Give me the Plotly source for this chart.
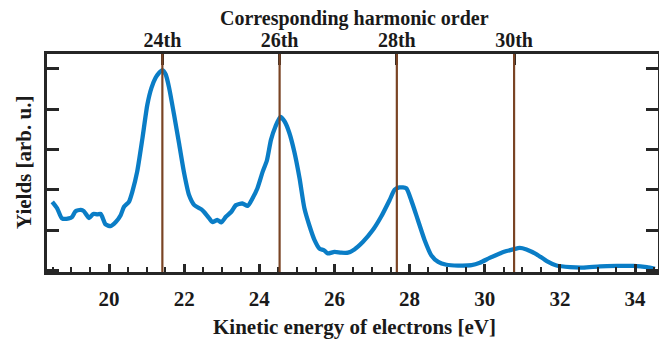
import plotly.graph_objects as go

energy = [18.49, 18.62, 18.75, 18.93, 19.02, 19.11, 19.25, 19.33, 19.47, 19.58, 19.69, 19.78,
          19.91, 20.04, 20.18, 20.31, 20.40, 20.53, 20.62, 20.75, 20.89, 21.02, 21.13, 21.24,
          21.33, 21.42, 21.51, 21.60, 21.73, 21.87, 22.00, 22.13, 22.27, 22.45, 22.53, 22.67,
          22.75, 22.89, 22.99, 23.11, 23.25, 23.38, 23.55, 23.69, 23.82, 23.95, 24.09, 24.20,
          24.31, 24.43, 24.56, 24.67, 24.80, 24.93, 25.07, 25.20, 25.33, 25.47, 25.60, 25.72,
          25.82, 26.00, 26.18, 26.36, 26.53, 26.76, 27.02, 27.24, 27.47, 27.60, 27.73, 27.91,
          28.04, 28.22, 28.40, 28.58, 28.76, 28.98, 29.29, 29.65, 29.87, 30.13, 30.40, 30.58,
          30.75, 30.93, 31.11, 31.38, 31.65, 31.91, 32.27, 32.62, 33.07, 33.51, 33.95, 34.31,
          34.53]
yields = [1.70, 1.54, 1.29, 1.29, 1.33, 1.47, 1.50, 1.47, 1.30, 1.40, 1.39, 1.40,
          1.14, 1.10, 1.20, 1.37, 1.58, 1.70, 1.95, 2.45, 3.28, 4.11, 4.53, 4.78,
          4.90, 4.97, 4.86, 4.53, 3.87, 3.12, 2.41, 1.87, 1.62, 1.52, 1.45, 1.29,
          1.20, 1.25, 1.19, 1.33, 1.45, 1.62, 1.66, 1.60, 1.79, 2.04, 2.45, 2.72,
          3.24, 3.57, 3.81, 3.70, 3.41, 2.95, 2.29, 1.54, 1.12, 0.75, 0.54, 0.50,
          0.42, 0.46, 0.44, 0.44, 0.52, 0.71, 1.00, 1.33, 1.75, 2.00, 2.06, 2.04,
          1.75, 1.25, 0.75, 0.37, 0.21, 0.14, 0.12, 0.13, 0.19, 0.31, 0.42, 0.48,
          0.52, 0.56, 0.52, 0.40, 0.23, 0.12, 0.08, 0.07, 0.10, 0.11, 0.11, 0.08,
          0.04]

harmonic_energy = [21.42, 24.54, 27.66, 30.78]
harmonic_labels = ["24th", "26th", "28th", "30th"]
y_ticks = [0, 1, 2, 3, 4, 5]

x_title = "Kinetic energy of electrons [eV]"
x2_title = "Corresponding harmonic order"
y_title = "Yields [arb. u.]"

XR = [18.35, 34.61]
YR = [-0.04, 5.37]
AX = "#262626"
TXT = "#1a1a1a"
FONT = dict(family="Liberation Serif", size=21, color=TXT, weight="bold")
FONT_TOP = dict(family="Liberation Serif", size=20, color=TXT, weight="bold")

fig = go.Figure()
fig.add_trace(go.Scatter(x=energy, y=yields, mode="lines",
                         line=dict(color="#0A7DC6", width=4.3, shape="spline", smoothing=0.6),
                         showlegend=False, hoverinfo="skip"))
# invisible trace for top axis
fig.add_trace(go.Scatter(x=harmonic_energy, y=[None] * 4, xaxis="x2", showlegend=False,
                         hoverinfo="skip", mode="markers"))

for h in harmonic_energy:
    fig.add_vline(x=h, line=dict(color="#7A4424", width=2.2), layer="above")

fig.update_layout(
    width=659, height=338,
    margin=dict(l=39, r=9, t=46, b=74, autoexpand=False),
    paper_bgcolor="white", plot_bgcolor="white",
    font=FONT,
    xaxis=dict(range=XR, dtick=2, tick0=0, ticks="inside", ticklen=8, tickwidth=2.5,
               tickcolor=AX, showline=True, linecolor=AX, linewidth=2.5, mirror=False,
               showgrid=False, zeroline=False, automargin=False, ticklabelstandoff=6,
               tickfont=FONT,
               minor=dict(dtick=0.5, tick0=0, ticks="inside", ticklen=5, tickwidth=2, tickcolor=AX, showgrid=False)),
    xaxis2=dict(range=XR, overlaying="x", side="top", tickvals=harmonic_energy,
                ticktext=harmonic_labels, automargin=False, ticklabelstandoff=-4,
                ticks="inside", ticklen=11, tickwidth=2.5, tickcolor=AX,
                showline=True, linecolor=AX, linewidth=2.5, showgrid=False, zeroline=False,
                tickfont=FONT_TOP),
    yaxis=dict(range=YR, tickvals=y_ticks, showticklabels=False, ticks="inside", ticklen=12,
               tickwidth=2.5, tickcolor=AX, showline=True, linecolor=AX, linewidth=2.5,
               mirror="ticks", showgrid=False, zeroline=False, automargin=False),
    annotations=[
        dict(text=x2_title, x=0.5, y=1, xref="paper", yref="paper", xanchor="center",
             yanchor="middle", yshift=36, xshift=2, showarrow=False, font=FONT_TOP),
        dict(text=x_title, x=0.5, y=0, xref="paper", yref="paper", xanchor="center",
             yanchor="middle", yshift=-55, xshift=2, showarrow=False, font=FONT),
        dict(text=y_title, x=0, y=0.5, xref="paper", yref="paper", xanchor="center",
             yanchor="middle", xshift=-23, textangle=-90, showarrow=False, font=FONT),
    ],
)

fig.write_html("out.html")
